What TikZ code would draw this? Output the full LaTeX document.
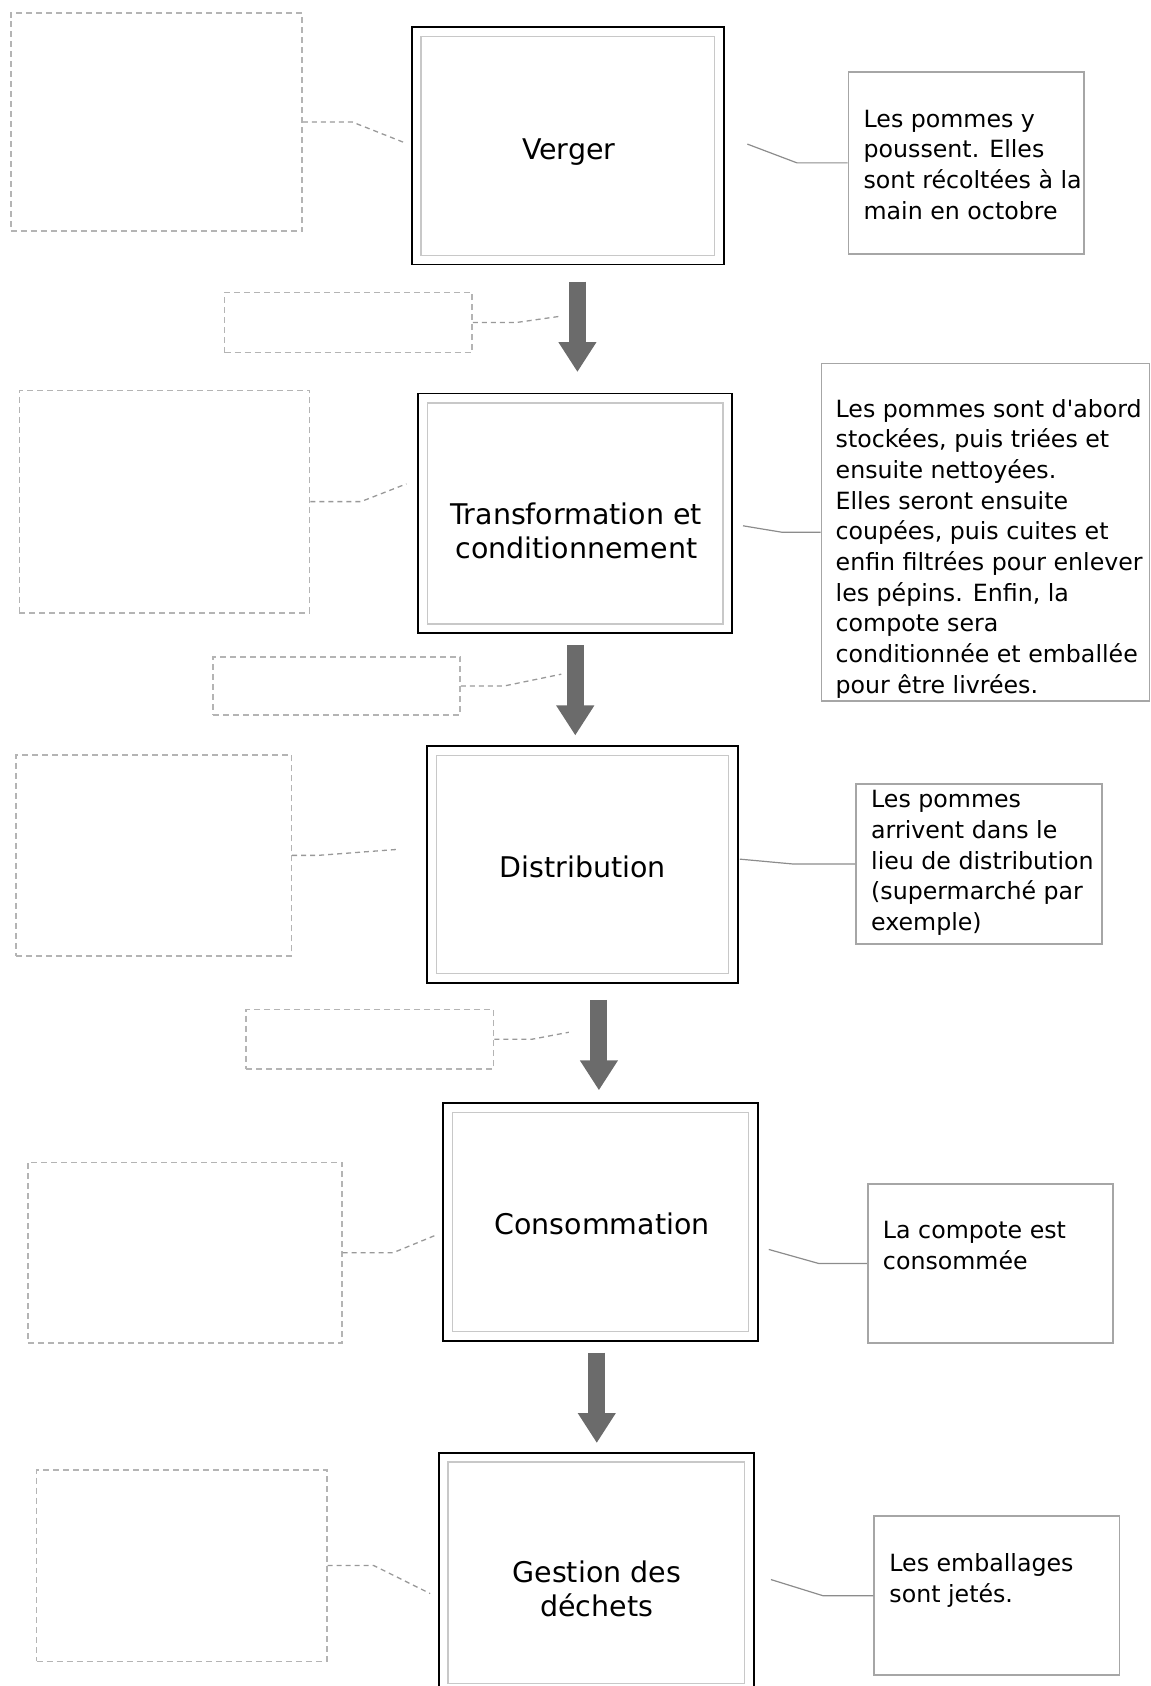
\documentclass[tikz,border=0pt]{standalone}
\usepackage{fontspec}
\setmainfont{DejaVu Sans}
\usetikzlibrary{fit,arrows.meta}
\definecolor{arrowgrey}{HTML}{6B6B6B}
\definecolor{innergrey}{HTML}{C8C8C8}
\definecolor{notegrey}{HTML}{A6A6A6}
\definecolor{blankgrey}{HTML}{B4B4B4}
\definecolor{linkgrey}{HTML}{8C8C8C}
\newcommand\straightapos{\XeTeXglyph\XeTeXcharglyph"0027\relax}
\begin{document}
\begin{tikzpicture}[x=1.0757pt,y=-1.0757pt,
  mainbox/.style={draw=black, line width=1.8pt, inner sep=0pt},
  innerline/.style={draw=innergrey, line width=1.3pt},
  notebox/.style={draw=notegrey, line width=1.6pt, inner sep=0pt},
  blankbox/.style={draw=blankgrey, line width=1.5pt, dash pattern=on 6pt off 4pt, inner sep=0pt},
  link/.style={draw=linkgrey, line width=1.2pt},
  dlink/.style={draw=blankgrey!85!black, line width=1.3pt, dash pattern=on 5pt off 4pt},
  bigarrow/.style={draw=arrowgrey, line width=17pt, -{Triangle[width=36pt,length=30pt]}},
  mainlabel/.style={align=center, inner sep=0pt, font=\fontsize{28.5}{34.2}\selectfont},
  notetext/.style={align=left, anchor=north west, inner sep=0pt, font=\fontsize{23.7}{30.7}\selectfont}
]
\useasboundingbox (0,0) rectangle (1070,1568);

% main boxes
\node[mainbox, fit={(383,25)(673,246)}] (v) {};
\node[mainbox, fit={(389,366)(681,589)}] (t) {};
\node[mainbox, fit={(397,694)(686,914)}] (d) {};
\node[mainbox, fit={(412,1026)(705,1247)}] (c) {};
\node[mainbox, fit={(408,1351)(701,1574)}] (g) {};
\foreach \b in {v,t,d,c,g}{
  \draw[innerline] ([shift={(9.5,9.5)}]\b.north west) rectangle ([shift={(-9.5,-9.5)}]\b.south east);
}
\node[mainlabel] (vl) at (529,141) {Verger};
\node[mainlabel] (tl) at (536,494) {Transformation et\\conditionnement};
\node[mainlabel] (dl) at (542,806) {Distribution};
\node[mainlabel] (cl) at (560,1138) {Consommation};
\node[mainlabel] (gl) at (555,1478) {Gestion des\\déchets};

% arrows
\coordinate (a1s) at (537,262); \coordinate (a1e) at (537,346);
\coordinate (a2s) at (535,600); \coordinate (a2e) at (535,684);
\coordinate (a3s) at (557,930); \coordinate (a3e) at (557,1014);
\coordinate (a4s) at (555,1258); \coordinate (a4e) at (555,1342);
\draw[bigarrow] (a1s) -- (a1e);
\draw[bigarrow] (a2s) -- (a2e);
\draw[bigarrow] (a3s) -- (a3e);
\draw[bigarrow] (a4s) -- (a4e);

% right notes
\node[notebox, fit={(789,67)(1008,236)}] (r1) {};
\node[notebox, fit={(764,338)(1069,652)}] (r2) {};
\node[notebox, fit={(796,729)(1025,878)}] (r3) {};
\node[notebox, fit={(807,1101)(1035,1249)}] (r4) {};
\node[notebox, fit={(813,1410)(1041,1558)}] (r5) {};
\node[notetext] (r1t) at (803,102) {Les pommes y\\poussent. Elles\\sont récoltées à la\\main en octobre};
\node[notetext] (r2t) at (777,371) {Les pommes sont d\straightapos abord\\stockées, puis triées et\\ensuite nettoyées.\\Elles seront ensuite\\coupées, puis cuites et\\enfin filtrées pour enlever\\les pépins. Enfin, la\\compote sera\\conditionnée et emballée\\pour être livrées.};
\node[notetext] (r3t) at (810,735) {Les pommes\\arrivent dans le\\lieu de distribution\\(supermarché par\\exemple)};
\node[notetext] (r4t) at (821,1136) {La compote est\\consommée};
\node[notetext] (r5t) at (827,1445) {Les emballages\\sont jetés.};

\coordinate (e1) at (695,134);
\coordinate (e2) at (691,489);
\coordinate (e3) at (688,799);
\coordinate (e4) at (715,1162);
\coordinate (e5) at (717,1469);
\draw[link] (r1.west) -- ++(-47,0) -- (e1);
\draw[link] (r2.west) -- ++(-36,0) -- (e2);
\draw[link] (r3.west) -- ++(-58,0) -- (e3);
\draw[link] (r4.west) -- ++(-45,0) -- (e4);
\draw[link] (r5.west) -- ++(-47,0) -- (e5);

% left blank boxes
\node[blankbox, fit={(10,12)(281,215)}] (b1) {};
\node[blankbox, fit={(18,363)(288,570)}] (b2) {};
\node[blankbox, fit={(15,702)(271,889)}] (b3) {};
\node[blankbox, fit={(26,1081)(318,1249)}] (b4) {};
\node[blankbox, fit={(34,1367)(304,1545)}] (b5) {};
\node[blankbox, fit={(209,272)(439,328)}] (s1) {};
\node[blankbox, fit={(198,611)(428,665)}] (s2) {};
\node[blankbox, fit={(229,939)(459,994)}] (s3) {};

\coordinate (f1) at (377,133);
\coordinate (f2) at (378,450);
\coordinate (f3) at (369,790);
\coordinate (f4) at (407,1148);
\coordinate (f5) at (400,1482);
\coordinate (h1) at (522,294);
\coordinate (h2) at (522,627);
\coordinate (h3) at (529,960);
\draw[dlink] (b1.east) -- ++(46,0) -- (f1);
\draw[dlink] (b2.east) -- ++(47,0) -- (f2);
\draw[dlink] (b3.east) -- ++(24,0) -- (f3);
\draw[dlink] (b4.east) -- ++(47,0) -- (f4);
\draw[dlink] (b5.east) -- ++(43,0) -- (f5);
\draw[dlink] (s1.east) -- ++(40,0) -- (h1);
\draw[dlink] (s2.east) -- ++(40,0) -- (h2);
\draw[dlink] (s3.east) -- ++(35,0) -- (h3);
\end{tikzpicture}
\end{document}
